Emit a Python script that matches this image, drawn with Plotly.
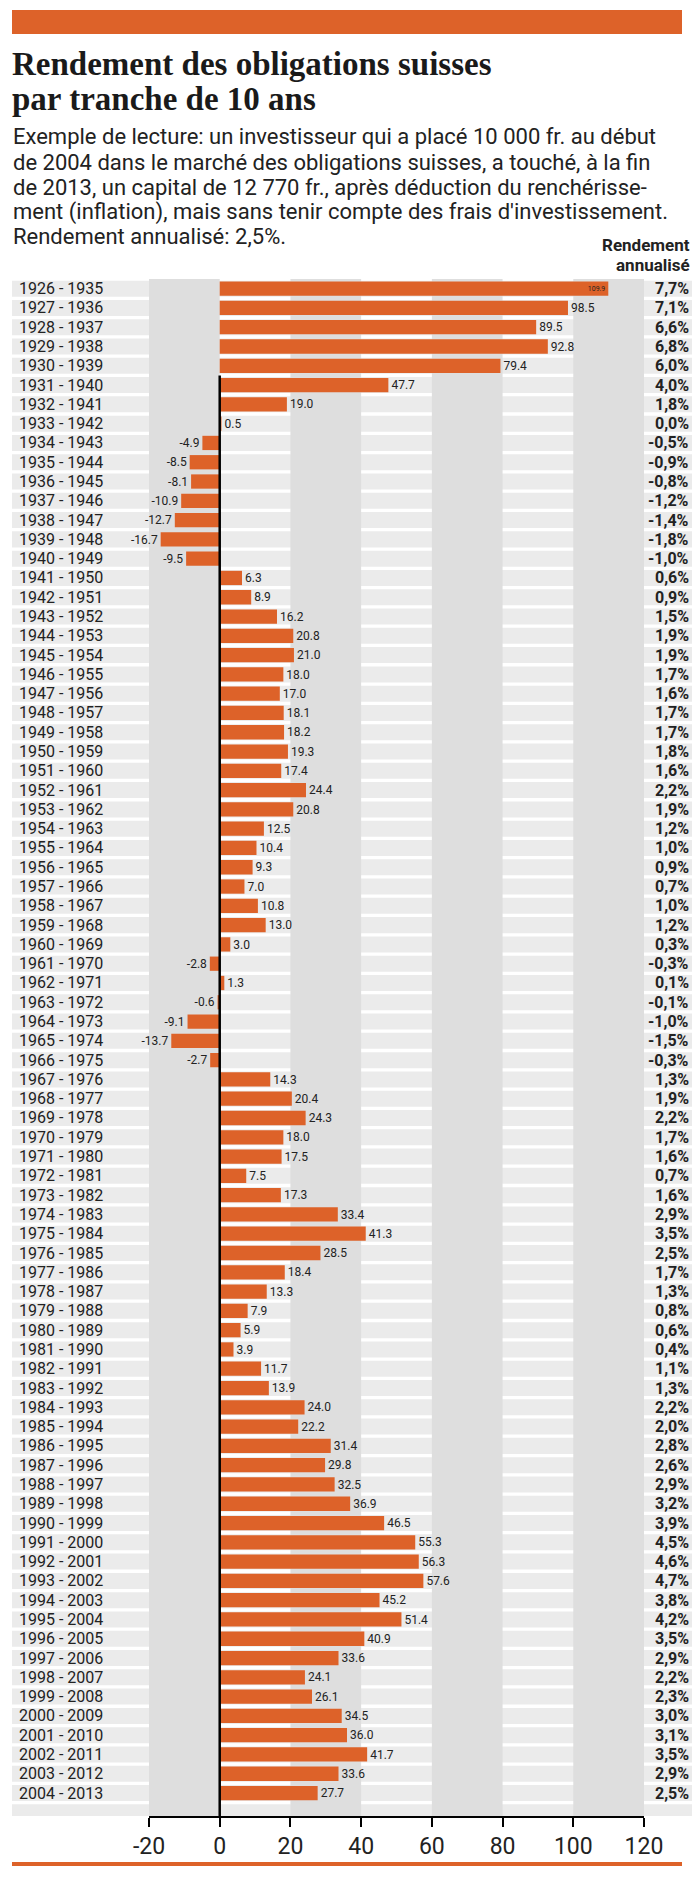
import plotly.graph_objects as go

periods = [f"{y} - {y + 9}" for y in range(1926, 2005)]
values = [109.9, 98.5, 89.5, 92.8, 79.4, 47.7, 19.0, 0.5, -4.9, -8.5,
          -8.1, -10.9, -12.7, -16.7, -9.5, 6.3, 8.9, 16.2, 20.8, 21.0,
          18.0, 17.0, 18.1, 18.2, 19.3, 17.4, 24.4, 20.8, 12.5, 10.4,
          9.3, 7.0, 10.8, 13.0, 3.0, -2.8, 1.3, -0.6, -9.1, -13.7,
          -2.7, 14.3, 20.4, 24.3, 18.0, 17.5, 7.5, 17.3, 33.4, 41.3,
          28.5, 18.4, 13.3, 7.9, 5.9, 3.9, 11.7, 13.9, 24.0, 22.2,
          31.4, 29.8, 32.5, 36.9, 46.5, 55.3, 56.3, 57.6, 45.2, 51.4,
          40.9, 33.6, 24.1, 26.1, 34.5, 36.0, 41.7, 33.6, 27.7]
annual = ["7,7%", "7,1%", "6,6%", "6,8%", "6,0%", "4,0%", "1,8%", "0,0%", "-0,5%", "-0,9%",
          "-0,8%", "-1,2%", "-1,4%", "-1,8%", "-1,0%", "0,6%", "0,9%", "1,5%", "1,9%", "1,9%",
          "1,7%", "1,6%", "1,7%", "1,7%", "1,8%", "1,6%", "2,2%", "1,9%", "1,2%", "1,0%",
          "0,9%", "0,7%", "1,0%", "1,2%", "0,3%", "-0,3%", "0,1%", "-0,1%", "-1,0%", "-1,5%",
          "-0,3%", "1,3%", "1,9%", "2,2%", "1,7%", "1,6%", "0,7%", "1,6%", "2,9%", "3,5%",
          "2,5%", "1,7%", "1,3%", "0,8%", "0,6%", "0,4%", "1,1%", "1,3%", "2,2%", "2,0%",
          "2,8%", "2,6%", "2,9%", "3,2%", "3,9%", "4,5%", "4,6%", "4,7%", "3,8%", "4,2%",
          "3,5%", "2,9%", "2,2%", "2,3%", "3,0%", "3,1%", "3,5%", "2,9%", "2,5%"]
x_ticks = [-20, 0, 20, 40, 60, 80, 100, 120]

# page body has an 8px margin, so everything is laid out in page pixels minus 8
OFF = 8
W, H = 700 - OFF, 1883 - OFF
L, R, T, B = 149 - OFF, 56, 279 - OFF, 1883 - 1816
PW, PH = W - L - R, H - T - B
ORANGE = "#dd6229"
SANS = "Roboto, Arial"
n = len(periods)
y_bottom = n + 0.19

def px_x(px):
    return (px - OFF - L) / PW

def px_y(py):
    return (H - B - (py - OFF)) / PH

idx = list(range(n))
fig = go.Figure(go.Bar(
    x=values, y=idx, orientation="h", width=0.74,
    marker=dict(color=ORANGE, line=dict(width=0)),
    text=[f"{v:.1f}" for v in values],
    textposition=["inside" if v > 100 else "outside" for v in values],
    insidetextanchor="end",
    textfont=dict(family=SANS, size=16, color="#222"),
    cliponaxis=False,
))

shapes = [dict(type="rect", xref="paper", yref="y", x0=px_x(12), x1=px_x(694),
               y0=-0.5, y1=y_bottom, fillcolor="#ebebeb", line_width=0, layer="below")]
for a in [-20, 20, 60, 100]:
    shapes.append(dict(type="rect", xref="x", yref="y", x0=a, x1=a + 20,
                       y0=-0.5, y1=y_bottom, fillcolor="#dedede", line_width=0, layer="below"))
for i in range(n + 1):
    shapes.append(dict(type="rect", xref="paper", yref="y", x0=px_x(12), x1=px_x(694),
                       y0=i - 0.5 - 0.085, y1=i - 0.5 + 0.085, fillcolor="white",
                       line_width=0, layer="below"))
shapes.append(dict(type="line", xref="x", yref="y", x0=0, x1=0, y0=4.5, y1=y_bottom,
                   line=dict(color="black", width=2.5)))
shapes.append(dict(type="rect", xref="paper", yref="paper", x0=px_x(12), x1=px_x(682),
                   y0=px_y(34), y1=px_y(10), fillcolor=ORANGE, line_width=0))
shapes.append(dict(type="rect", xref="paper", yref="paper", x0=px_x(12), x1=px_x(682),
                   y0=px_y(1866), y1=px_y(1862), fillcolor=ORANGE, line_width=0))

ann = []
for i, (p, a) in enumerate(zip(periods, annual)):
    ann.append(dict(x=px_x(17), y=i, xref="paper", yref="y", text=p, showarrow=False,
                    xanchor="left", font=dict(family=SANS, size=16, color="#222")))
    ann.append(dict(x=px_x(691), y=i, xref="paper", yref="y", text=f"<b>{a}</b>",
                    showarrow=False, xanchor="right", font=dict(family=SANS, size=16, color="#222")))

for k, line in enumerate(["Rendement des obligations suisses", "par tranche de 10 ans"]):
    ann.append(dict(x=px_x(10), y=px_y(64 + 35 * k), xref="paper", yref="paper",
                    xanchor="left", yanchor="middle", showarrow=False, text=f"<b>{line}</b>",
                    font=dict(family="Liberation Serif, DejaVu Serif", size=33, color="#1a1a1a")))
sub = ["Exemple de lecture: un investisseur qui a placé 10 000 fr. au début",
       "de 2004 dans le marché des obligations suisses, a touché, à la fin",
       "de 2013, un capital de 12 770 fr., après déduction du renchérisse-",
       "ment (inflation), mais sans tenir compte des frais d'investissement.",
       "Rendement annualisé: 2,5%."]
for k, line in enumerate(sub):
    ann.append(dict(x=px_x(11), y=px_y(137 + 25 * k), xref="paper", yref="paper",
                    xanchor="left", yanchor="middle", showarrow=False, text=line,
                    font=dict(family=SANS, size=22, color="#222")))
for k, line in enumerate(["Rendement", "annualisé"]):
    ann.append(dict(x=px_x(692), y=px_y(245 + 20 * k), xref="paper", yref="paper",
                    xanchor="right", yanchor="middle", showarrow=False, text=f"<b>{line}</b>",
                    font=dict(family=SANS, size=17, color="#222")))

fig.update_layout(
    width=W, height=H, margin=dict(l=L, r=R, t=T, b=B),
    plot_bgcolor="white", paper_bgcolor="white", showlegend=False,
    shapes=shapes, annotations=ann,
    xaxis=dict(range=[-20, 120], tickvals=x_ticks, ticktext=[str(t) for t in x_ticks],
               showgrid=False, zeroline=False,
               showline=True, linecolor="black", linewidth=1.5,
               ticks="outside", ticklen=9, tickcolor="black", tickwidth=1.5,
               tickfont=dict(family=SANS, size=23, color="#222"), fixedrange=True),
    yaxis=dict(range=[y_bottom, -0.5], showticklabels=False, showgrid=False,
               zeroline=False, fixedrange=True),
)

fig.write_html("out.html")
